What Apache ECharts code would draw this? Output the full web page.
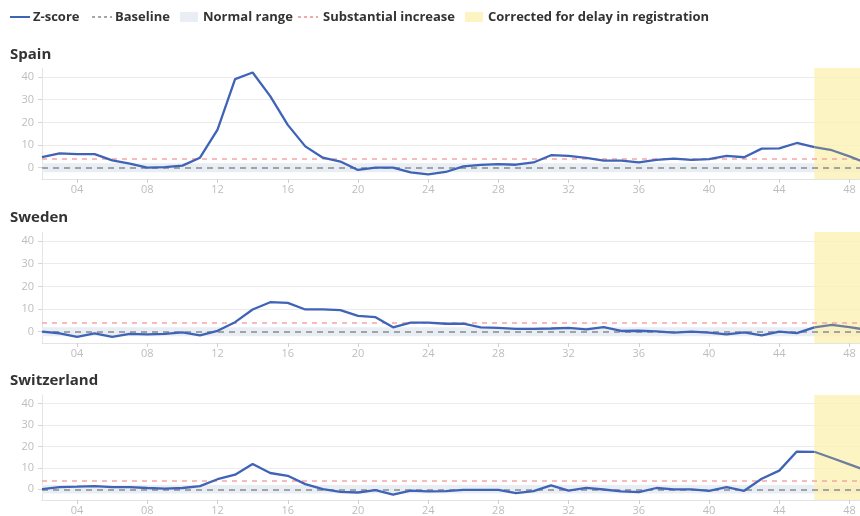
<!DOCTYPE html>
<html><head><meta charset="utf-8">
<script src="https://cdn.jsdelivr.net/npm/echarts@6/dist/echarts.min.js"></script>
<style>html,body{margin:0;padding:0;background:#fff}#c{width:860px;height:516px}</style>
</head><body><div id="c"></div>
<script>
// ---- data ----
const countries = ['Spain', 'Sweden', 'Switzerland'];
const weeks = [2,3,4,5,6,7,8,9,10,11,12,13,14,15,16,17,18,19,20,21,22,23,24,25,26,27,28,29,30,31,32,33,34,35,36,37,38,39,40,41,42,43,44,45,46,47,48,49];
const spain = [4.7,6.3,6.0,6.0,3.2,1.8,0.0,0.2,0.9,4.4, 16.8,39.1,42.0,31.6,18.9,9.4,4.4,2.7,-1.0,0.0, 0.0,-2.1,-3.0,-1.9,0.6,1.2,1.6,1.3,2.3,5.5, 5.2,4.3,3.1,3.1,2.3,3.4,4.0,3.4,3.8,5.2, 4.6,8.4,8.5,10.9,9.1,7.7,5.0,2.0];
const sweden = [0.0,-0.7,-2.3,-0.7,-2.3,-1.0,-1.2,-1.0,-0.3,-1.6, 0.4,4.2,9.8,13.0,12.7,9.8,9.8,9.5,7.0,6.4, 1.9,4.0,4.0,3.5,3.5,1.9,1.7,1.2,1.2,1.4, 1.7,1.0,2.0,0.3,0.4,0.1,-0.4,0.0,-0.4,-1.2, -0.3,-1.6,0.0,-0.6,1.9,3.0,2.0,0.8];
const switzerland = [0.1,1.0,1.2,1.5,1.0,1.0,0.6,0.3,0.6,1.5, 4.7,6.8,11.8,7.6,6.3,2.4,0.1,-1.2,-1.5,-0.4, -2.5,-0.6,-1.0,-0.9,-0.3,-0.3,-0.3,-1.8,-0.9,1.8, -0.6,0.7,-0.1,-1.0,-1.3,0.6,0.0,0.0,-0.7,1.0, -0.7,4.9,8.7,17.6,17.5,14.6,11.6,8.7];
const xTicks = [4,8,12,16,20,24,28,32,36,40,44,48];
const yTicks = [0,10,20,30,40];
const baseline = 0;
const normalRange = [-2, 2];
const substantialIncrease = 4;
const correctedFromWeek = 46;
const legendNames = ['Z-score', 'Baseline', 'Normal range', 'Substantial increase', 'Corrected for delay in registration'];

// ---- layout / style ----
const xMin = 2, xMax = 48.6, yMin = -5, yMax = 44;
const FONT = 'Open Sans';
const seriesValues = [spain, sweden, switzerland];
const gridTops = [68, 232, 395];
const titleTops = [42, 205, 368];
const GRID_H = 111;
const BLUE = '#3f63b6';
const BLUE_CORR = '#6b7e9c';
const RED_DASH = '#f6a5a5';
const GREY_DASH = '#8a8a8a';
const BAND = '#e9eef4';
const YELLOW = 'rgba(252,241,180,0.78)';

const pad2 = v => (v < 10 ? '0' : '') + v;

const grids = [], xAxes = [], yAxes = [], series = [], titles = [];
countries.forEach((name, i) => {
  titles.push({ text: name, left: 5, top: titleTops[i], textStyle: { fontFamily: FONT, fontSize: 15, fontWeight: 700, color: '#333' } });
  grids.push({ left: 42, right: 0, top: gridTops[i], height: GRID_H });
  xAxes.push({
    type: 'value', gridIndex: i, min: xMin, max: xMax,
    axisLine: { show: true, onZero: false, lineStyle: { color: '#e4e4e4' } },
    axisTick: { show: true, customValues: xTicks, length: 4, lineStyle: { color: '#cfcfcf' } },
    axisLabel: { customValues: xTicks, formatter: v => pad2(v), color: '#bdbdbd', fontSize: 11, fontFamily: FONT, margin: 5 },
    splitLine: { show: false }
  });
  yAxes.push({
    type: 'value', gridIndex: i, min: yMin, max: yMax,
    axisLine: { show: true, lineStyle: { color: '#e4e4e4' } },
    axisTick: { show: true, customValues: yTicks, length: 4, lineStyle: { color: '#d6d6d6' } },
    axisLabel: { customValues: yTicks, color: '#bdbdbd', fontSize: 11, fontFamily: FONT, margin: 8 },
    splitLine: { show: true, lineStyle: { color: '#ececec', width: 1 } }
  });
  // normal range band
  series.push({
    type: 'line', name: 'Normal range', xAxisIndex: i, yAxisIndex: i, data: [], silent: true,
    markArea: { silent: true, itemStyle: { color: BAND }, data: [[{ yAxis: normalRange[0] }, { yAxis: normalRange[1] }]] }
  });
  // corrected for delay area + reference lines
  series.push({
    type: 'line', name: 'Corrected', xAxisIndex: i, yAxisIndex: i, data: [], silent: true,
    markArea: { silent: true, itemStyle: { color: YELLOW }, data: [[{ xAxis: correctedFromWeek }, { xAxis: xMax }]] },
    markLine: {
      silent: true, z: 1.5, symbol: ['none', 'none'], label: { show: false },
      data: [
        { yAxis: substantialIncrease, lineStyle: { color: RED_DASH, type: [5, 5], width: 1.5 } },
        { yAxis: baseline, lineStyle: { color: GREY_DASH, type: [6, 5], width: 1.5 } }
      ]
    }
  });
  const pts = weeks.map((w, k) => [w, seriesValues[i][k]]);
  series.push({
    type: 'line', name: 'Z-score', xAxisIndex: i, yAxisIndex: i, z: 3,
    data: pts.filter(p => p[0] <= correctedFromWeek),
    showSymbol: false, symbol: 'none', lineStyle: { width: 2.3, color: BLUE }, itemStyle: { color: BLUE }, clip: true
  });
  series.push({
    type: 'line', name: 'Z-score corrected', xAxisIndex: i, yAxisIndex: i, z: 3,
    data: pts.filter(p => p[0] >= correctedFromWeek),
    showSymbol: false, symbol: 'none', lineStyle: { width: 2.3, color: BLUE_CORR }, itemStyle: { color: BLUE_CORR }, clip: true
  });
});

// legend built from graphic elements
const LY = 17;
const legendText = (x, t) => ({ type: 'text', left: x, top: LY - 6, style: { text: t, fontFamily: FONT, fontSize: 13, fontWeight: 700, fill: '#333' } });
const graphic = [
  { type: 'line', shape: { x1: 10, y1: LY, x2: 30, y2: LY }, style: { stroke: BLUE, lineWidth: 2 } },
  legendText(33, legendNames[0]),
  { type: 'line', shape: { x1: 92, y1: LY, x2: 112, y2: LY }, style: { stroke: GREY_DASH, lineWidth: 1.5, lineDash: [3, 3] } },
  legendText(115, legendNames[1]),
  { type: 'rect', shape: { x: 180, y: LY - 5, width: 18, height: 10 }, style: { fill: BAND } },
  legendText(203, legendNames[2]),
  { type: 'line', shape: { x1: 298, y1: LY, x2: 318, y2: LY }, style: { stroke: '#f08a8a', lineWidth: 1.5, lineDash: [3, 3] } },
  legendText(323, legendNames[3]),
  { type: 'rect', shape: { x: 465, y: LY - 5, width: 18, height: 10 }, style: { fill: '#fdf4c4' } },
  legendText(488, legendNames[4])
];

const chart = echarts.init(document.getElementById('c'), null, { renderer: 'canvas' });
chart.setOption({
  animation: false,
  backgroundColor: '#fff',
  title: titles,
  grid: grids, xAxis: xAxes, yAxis: yAxes,
  series: series,
  graphic: graphic
});
</script></body></html>
